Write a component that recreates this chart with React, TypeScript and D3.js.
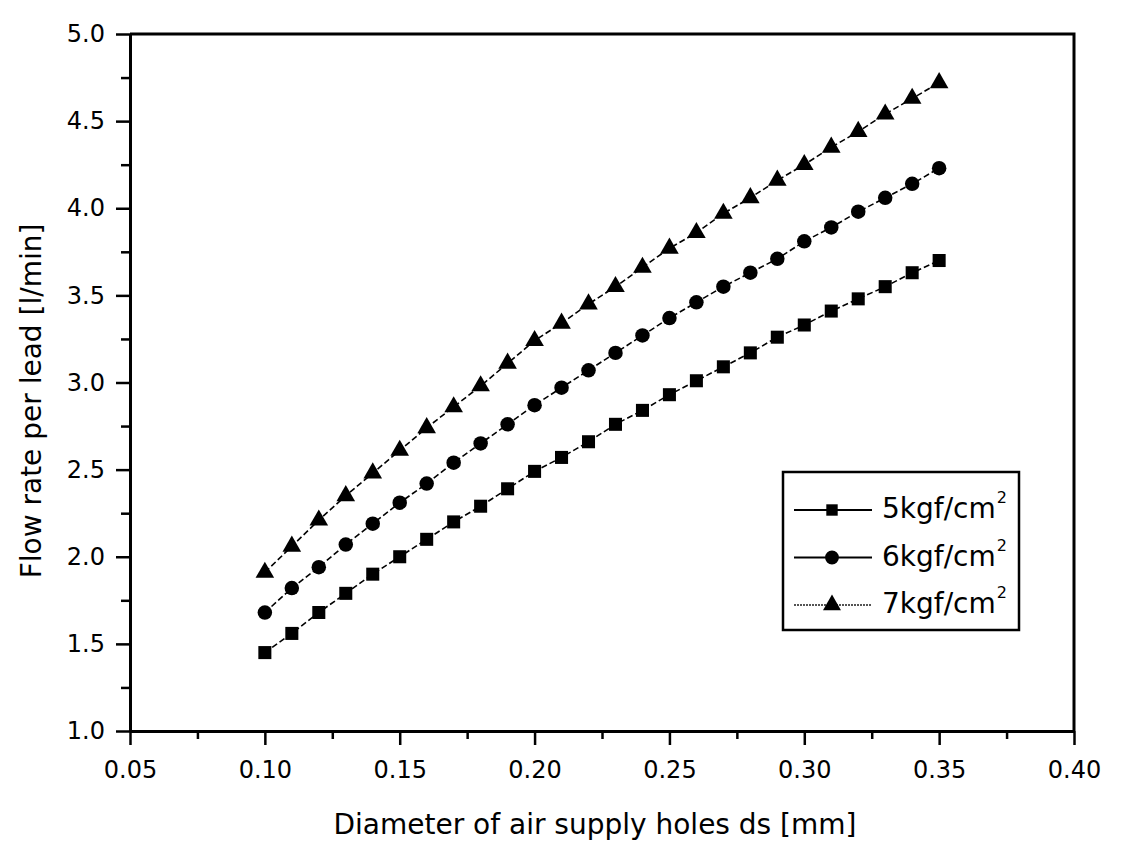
import React, { useEffect, useRef } from "react"
import * as d3 from "d3"

// diameter of air supply holes ds [mm]
const diameters = [
  0.1, 0.11, 0.12, 0.13, 0.14, 0.15, 0.16, 0.17, 0.18, 0.19, 0.2, 0.21, 0.22,
  0.23, 0.24, 0.25, 0.26, 0.27, 0.28, 0.29, 0.3, 0.31, 0.32, 0.33, 0.34, 0.35,
]

// flow rate per lead [l/min] for each supply pressure
const flow5 = [
  1.45, 1.56, 1.68, 1.79, 1.9, 2.0, 2.1, 2.2, 2.29, 2.39, 2.49, 2.57, 2.66,
  2.76, 2.84, 2.93, 3.01, 3.09, 3.17, 3.26, 3.33, 3.41, 3.48, 3.55, 3.63, 3.7,
]
const flow6 = [
  1.68, 1.82, 1.94, 2.07, 2.19, 2.31, 2.42, 2.54, 2.65, 2.76, 2.87, 2.97, 3.07,
  3.17, 3.27, 3.37, 3.46, 3.55, 3.63, 3.71, 3.81, 3.89, 3.98, 4.06, 4.14, 4.23,
]
const flow7 = [
  1.91, 2.06, 2.21, 2.35, 2.48, 2.61, 2.74, 2.86, 2.98, 3.11, 3.24, 3.34, 3.45,
  3.55, 3.66, 3.77, 3.86, 3.97, 4.06, 4.16, 4.25, 4.35, 4.44, 4.54, 4.63, 4.72,
]

const seriesNames = ["5kgf/cm", "6kgf/cm", "7kgf/cm"]

const xTicks = [0.05, 0.1, 0.15, 0.2, 0.25, 0.3, 0.35, 0.4]
const xMinor = [0.075, 0.125, 0.175, 0.225, 0.275, 0.325, 0.375]
const yTicks = [1.0, 1.5, 2.0, 2.5, 3.0, 3.5, 4.0, 4.5, 5.0]
const yMinor = [1.25, 1.75, 2.25, 2.75, 3.25, 3.75, 4.25, 4.75]

const FONT = "'DejaVu Sans', 'Liberation Sans', Arial, sans-serif"

function FlowChart() {
  const ref = useRef<SVGSVGElement>(null)

  useEffect(() => {
    const width = 1122
    const height = 842
    const m = { left: 130, right: 1074, top: 34, bottom: 731 }

    const svg = d3.select(ref.current)
    svg.selectAll("*").remove()
    svg.attr("width", width).attr("height", height)

    svg.append("rect").attr("width", width).attr("height", height).attr("fill", "#fff")

    const x = d3.scaleLinear().domain([0.05, 0.4]).range([m.left, m.right])
    const y = d3.scaleLinear().domain([1.0, 5.0]).range([m.bottom, m.top])

    // axes, major ticks with labels and minor ticks without
    svg.append("g")
      .attr("transform", `translate(0,${m.bottom})`)
      .call(
        d3.axisBottom(x).tickValues(xTicks).tickSize(14).tickSizeOuter(0).tickPadding(16)
          .tickFormat(d3.format(".2f") as any)
      )
    svg.append("g")
      .attr("transform", `translate(0,${m.bottom})`)
      .call(d3.axisBottom(x).tickValues(xMinor).tickSize(8).tickSizeOuter(0).tickFormat(() => ""))

    svg.append("g")
      .attr("transform", `translate(${m.left},0)`)
      .call(
        d3.axisLeft(y).tickValues(yTicks).tickSize(14).tickSizeOuter(0).tickPadding(11)
          .tickFormat(d3.format(".1f") as any)
      )
    svg.append("g")
      .attr("transform", `translate(${m.left},0)`)
      .call(d3.axisLeft(y).tickValues(yMinor).tickSize(9).tickSizeOuter(0).tickFormat(() => ""))

    svg.selectAll(".domain").attr("stroke", "#000").attr("stroke-width", 3)
    svg.selectAll(".tick line").attr("stroke", "#000").attr("stroke-width", 2.5)
    svg.selectAll(".tick text")
      .attr("fill", "#000")
      .style("font-family", FONT)
      .style("font-size", "24px")

    // top and right frame
    svg.append("path")
      .attr("d", `M${m.left},${m.top}H${m.right}V${m.bottom}`)
      .attr("fill", "none")
      .attr("stroke", "#000")
      .attr("stroke-width", 3)

    // axis titles
    svg.append("text")
      .attr("x", 595)
      .attr("y", 834)
      .attr("text-anchor", "middle")
      .style("font-family", FONT)
      .style("font-size", "28px")
      .text("Diameter of air supply holes ds [mm]")

    svg.append("text")
      .attr("transform", `translate(41,401) rotate(-90)`)
      .attr("text-anchor", "middle")
      .style("font-family", FONT)
      .style("font-size", "28px")
      .text("Flow rate per lead [l/min]")

    const symbols = [
      d3.symbol().type(d3.symbolSquare).size(170),
      d3.symbol().type(d3.symbolCircle).size(165),
      d3.symbol().type(d3.symbolTriangle).size(150),
    ]
    const allSeries = [flow5, flow6, flow7]

    const line = d3.line<number>()
      .x((_, i) => x(diameters[i]))
      .y(d => y(d))

    allSeries.forEach((vals, s) => {
      svg.append("path")
        .datum(vals)
        .attr("d", line)
        .attr("fill", "none")
        .attr("stroke", "#000")
        .attr("stroke-width", 1.6)
        .attr("stroke-dasharray", "6,3")

      svg.append("g")
        .selectAll("path")
        .data(vals)
        .enter()
        .append("path")
        .attr("d", symbols[s]())
        .attr("transform", (d, i) => `translate(${x(diameters[i])},${y(d)})`)
        .attr("fill", "#000")
    })

    // legend
    const legendSymbols = [
      d3.symbol().type(d3.symbolSquare).size(130),
      d3.symbol().type(d3.symbolCircle).size(150),
      d3.symbol().type(d3.symbolTriangle).size(140),
    ]
    const lg = svg.append("g")
    lg.append("rect")
      .attr("x", 783).attr("y", 472).attr("width", 236).attr("height", 158)
      .attr("fill", "#fff").attr("stroke", "#000").attr("stroke-width", 2.5)

    seriesNames.forEach((name, s) => {
      const ry = 510 + s * 47.5
      lg.append("line")
        .attr("x1", 794).attr("x2", 872).attr("y1", ry).attr("y2", ry)
        .attr("stroke", s === 2 ? "#555" : "#000")
        .attr("stroke-width", 2)
        .attr("stroke-dasharray", s === 2 ? "2,1" : null)
      lg.append("path")
        .attr("d", legendSymbols[s]())
        .attr("transform", `translate(832,${ry})`)
        .attr("fill", "#000")
      const t = lg.append("text")
        .attr("x", 882).attr("y", ry + 8)
        .style("font-family", FONT)
        .style("font-size", "28px")
        .text(name)
      t.append("tspan")
        .attr("dy", -15)
        .attr("dx", 1)
        .style("font-size", "16px")
        .text("2")
    })
  }, [])

  return <svg ref={ref} style={{ position: "absolute", left: 0, top: 0 }}></svg>
}

export default function App() {
  return <FlowChart />
}
